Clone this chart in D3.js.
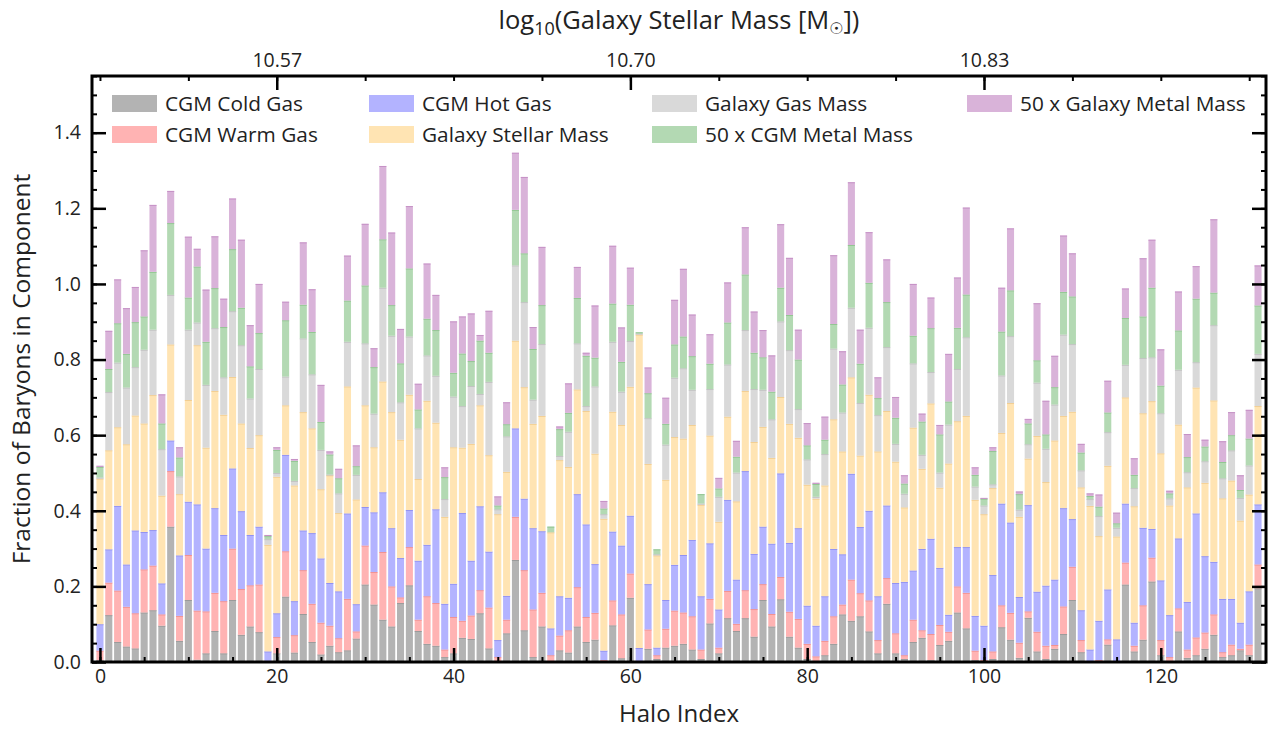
<!DOCTYPE html>
<html><head><meta charset="utf-8">
<script src="https://cdn.jsdelivr.net/npm/d3@7"></script>
<style>
body{margin:0;background:#fff;}
text{font-family:"Open Sans",Lato,sans-serif;fill:#222;}
</style></head>
<body><svg id="c" width="1274" height="731"></svg>
<script>
const haloIndex = d3.range(132);
const cgmCold = [0.005,0.124,0.053,0.041,0.036,0.131,0.137,0.096,0.358,0.056, 0.164,0.006,0.023,0.082,0.023,0.164,0.072,0.094,0.079,0.000, 0.023,0.173,0.025,0.127,0.053,0.020,0.043,0.026,0.031,0.062, 0.205,0.152,0.112,0.094,0.156,0.203,0.082,0.048,0.043,0.013, 0.023,0.064,0.061,0.129,0.036,0.003,0.076,0.270,0.084,0.013, 0.094,0.000,0.031,0.025,0.094,0.053,0.059,0.000,0.097,0.010, 0.170,0.000,0.035,0.008,0.038,0.043,0.048,0.033,0.008,0.102, 0.023,0.116,0.082,0.116,0.067,0.164,0.094,0.166,0.067,0.038, 0.008,0.000,0.018,0.048,0.126,0.109,0.121,0.081,0.023,0.154, 0.023,0.008,0.053,0.064,0.005,0.045,0.056,0.131,0.089,0.005, 0.000,0.008,0.092,0.059,0.011,0.117,0.028,0.008,0.035,0.074, 0.164,0.026,0.000,0.000,0.046,0.000,0.205,0.028,0.059,0.213, 0.018,0.003,0.081,0.011,0.018,0.035,0.072,0.013,0.018,0.031, 0.018,0.195];
const cgmWarm = [0.025,0.086,0.136,0.105,0.093,0.114,0.118,0.030,0.147,0.066, 0.119,0.130,0.111,0.101,0.138,0.136,0.121,0.109,0.126,0.003, 0.043,0.120,0.046,0.116,0.101,0.084,0.053,0.037,0.136,0.019, 0.103,0.086,0.179,0.106,0.015,0.101,0.030,0.126,0.113,0.020, 0.096,0.045,0.062,0.061,0.108,0.010,0.036,0.114,0.159,0.126, 0.089,0.018,0.039,0.059,0.104,0.066,0.071,0.005,0.066,0.116, 0.064,0.003,0.051,0.010,0.050,0.093,0.083,0.088,0.025,0.065, 0.015,0.072,0.019,0.074,0.073,0.042,0.033,0.059,0.066,0.076, 0.040,0.015,0.038,0.073,0.026,0.109,0.061,0.082,0.035,0.068, 0.053,0.010,0.059,0.020,0.069,0.053,0.024,0.069,0.094,0.025, 0.005,0.020,0.058,0.071,0.040,0.017,0.052,0.035,0.010,0.073, 0.088,0.032,0.000,0.005,0.014,0.000,0.058,0.015,0.091,0.063, 0.040,0.010,0.061,0.022,0.047,0.043,0.054,0.013,0.028,0.004, 0.028,0.063];
const cgmHot = [0.070,0.088,0.224,0.112,0.219,0.099,0.094,0.082,0.081,0.160, 0.141,0.281,0.166,0.224,0.175,0.212,0.206,0.133,0.153,0.025, 0.063,0.255,0.090,0.105,0.187,0.170,0.113,0.124,0.226,0.072, 0.102,0.158,0.158,0.154,0.104,0.098,0.156,0.136,0.248,0.121, 0.088,0.285,0.145,0.222,0.148,0.045,0.063,0.234,0.189,0.215, 0.163,0.071,0.104,0.086,0.246,0.245,0.129,0.025,0.182,0.182, 0.153,0.034,0.120,0.020,0.076,0.121,0.152,0.202,0.141,0.147, 0.101,0.241,0.117,0.315,0.146,0.152,0.186,0.274,0.182,0.240, 0.101,0.081,0.118,0.178,0.133,0.280,0.175,0.237,0.116,0.192, 0.133,0.194,0.130,0.215,0.252,0.151,0.045,0.104,0.121,0.092, 0.091,0.202,0.269,0.239,0.121,0.281,0.106,0.159,0.173,0.260, 0.126,0.079,0.033,0.104,0.132,0.060,0.156,0.061,0.205,0.076, 0.158,0.111,0.185,0.126,0.328,0.202,0.139,0.141,0.121,0.069, 0.141,0.159];
const galStellar = [0.385,0.262,0.208,0.318,0.304,0.287,0.357,0.232,0.254,0.162, 0.269,0.421,0.267,0.310,0.318,0.242,0.232,0.230,0.242,0.282, 0.361,0.131,0.306,0.313,0.277,0.183,0.285,0.207,0.336,0.277, 0.269,0.172,0.293,0.307,0.313,0.305,0.216,0.381,0.229,0.230, 0.361,0.173,0.309,0.267,0.255,0.333,0.328,0.232,0.295,0.276, 0.305,0.254,0.360,0.346,0.277,0.300,0.292,0.349,0.317,0.319, 0.341,0.829,0.318,0.244,0.318,0.338,0.308,0.304,0.242,0.285, 0.232,0.220,0.207,0.212,0.296,0.264,0.227,0.202,0.315,0.239, 0.320,0.336,0.293,0.343,0.272,0.255,0.189,0.307,0.383,0.250, 0.321,0.197,0.378,0.212,0.358,0.212,0.400,0.333,0.347,0.307, 0.295,0.230,0.187,0.316,0.212,0.123,0.412,0.274,0.368,0.244, 0.284,0.325,0.380,0.224,0.327,0.272,0.281,0.308,0.303,0.338, 0.336,0.290,0.301,0.303,0.333,0.194,0.427,0.266,0.313,0.270, 0.256,0.260];
const galGas = [0.003,0.154,0.171,0.150,0.128,0.195,0.173,0.123,0.131,0.047, 0.186,0.060,0.166,0.166,0.099,0.174,0.207,0.131,0.175,0.015, 0.010,0.076,0.012,0.195,0.143,0.104,0.002,0.052,0.118,0.065, 0.164,0.089,0.248,0.202,0.099,0.154,0.134,0.120,0.124,0.047, 0.134,0.110,0.153,0.030,0.194,0.013,0.094,0.199,0.225,0.064, 0.190,0.000,0.011,0.093,0.122,0.013,0.178,0.012,0.185,0.088, 0.121,0.003,0.121,0.003,0.093,0.157,0.186,0.093,0.003,0.123, 0.066,0.138,0.076,0.161,0.140,0.098,0.102,0.200,0.195,0.076, 0.067,0.005,0.083,0.187,0.103,0.184,0.139,0.177,0.096,0.169, 0.047,0.036,0.170,0.037,0.083,0.040,0.103,0.138,0.208,0.035, 0.023,0.010,0.152,0.177,0.019,0.038,0.141,0.088,0.095,0.215, 0.179,0.045,0.018,0.053,0.089,0.023,0.086,0.048,0.146,0.116, 0.106,0.019,0.145,0.040,0.067,0.057,0.199,0.053,0.080,0.060, 0.077,0.138];
const cgmMetal50 = [0.028,0.061,0.104,0.089,0.119,0.088,0.153,0.068,0.190,0.050, 0.085,0.148,0.114,0.106,0.133,0.164,0.099,0.085,0.095,0.008, 0.061,0.149,0.053,0.089,0.112,0.074,0.053,0.040,0.109,0.023, 0.153,0.123,0.128,0.081,0.103,0.180,0.050,0.097,0.121,0.058, 0.063,0.139,0.066,0.141,0.077,0.010,0.032,0.147,0.129,0.134, 0.103,0.015,0.071,0.050,0.120,0.133,0.076,0.015,0.101,0.079, 0.096,0.003,0.066,0.013,0.055,0.088,0.084,0.089,0.025,0.067, 0.022,0.111,0.042,0.147,0.096,0.086,0.073,0.089,0.093,0.131, 0.037,0.034,0.038,0.065,0.074,0.166,0.104,0.119,0.045,0.119, 0.069,0.027,0.073,0.088,0.116,0.101,0.061,0.109,0.113,0.031, 0.018,0.088,0.116,0.121,0.041,0.055,0.059,0.038,0.046,0.113, 0.126,0.047,0.008,0.025,0.052,0.012,0.124,0.035,0.110,0.184, 0.073,0.013,0.104,0.040,0.168,0.039,0.086,0.043,0.040,0.021, 0.071,0.128];
const galMetal50 = [0.003,0.101,0.116,0.121,0.093,0.175,0.177,0.077,0.085,0.027, 0.161,0.047,0.138,0.137,0.075,0.134,0.180,0.109,0.130,0.003, 0.007,0.049,0.005,0.165,0.113,0.098,0.008,0.025,0.119,0.055, 0.163,0.050,0.194,0.192,0.091,0.165,0.068,0.146,0.093,0.026, 0.136,0.098,0.126,0.015,0.111,0.024,0.058,0.151,0.202,0.058, 0.154,0.000,0.007,0.078,0.082,0.008,0.138,0.020,0.153,0.091, 0.098,0.000,0.068,0.000,0.069,0.118,0.179,0.110,0.000,0.078, 0.028,0.106,0.042,0.125,0.109,0.072,0.096,0.168,0.151,0.079, 0.059,0.003,0.061,0.182,0.088,0.166,0.090,0.134,0.055,0.113, 0.055,0.022,0.137,0.021,0.081,0.025,0.126,0.133,0.230,0.020, 0.002,0.010,0.116,0.164,0.007,0.012,0.151,0.089,0.083,0.149, 0.114,0.023,0.007,0.032,0.084,0.028,0.078,0.044,0.154,0.127, 0.096,0.007,0.103,0.061,0.086,0.018,0.194,0.055,0.061,0.039, 0.076,0.106];

const seriesNames = ["CGM Cold Gas","CGM Warm Gas","CGM Hot Gas","Galaxy Stellar Mass","Galaxy Gas Mass","50 x CGM Metal Mass","50 x Galaxy Metal Mass"];
const seriesValues = [cgmCold, cgmWarm, cgmHot, galStellar, galGas, cgmMetal50, galMetal50];
const seriesColors = ["#b3b3b3","#ffb3b3","#b3b3ff","#ffe4b3","#d9d9d9","#b3d9b3","#d9b3d9"];
const seriesEdges  = ["#959595","#f08a8a","#8a8af0","#f0c98a","#bdbdbd","#8ac28a","#c28ac2"];
const bottomTicks = [0,20,40,60,80,100,120];
const topTickIdx = [20,60,100];
const topTickLabels = ["10.57","10.70","10.83"];
const yTicks = [0,0.2,0.4,0.6,0.8,1.0,1.2,1.4];

const svg = d3.select("#c");
const L=92, R=1266, T=76, B=662;
const x = d3.scaleLinear().domain([-0.9,131.9]).range([L,R]);
const y = d3.scaleLinear().domain([0,1.55]).range([B,T]);
const bw = 0.8*(x(1)-x(0));
const FONT = "'Open Sans', Lato, sans-serif";

const table = haloIndex.map(i => { const o={i}; seriesNames.forEach((n,k)=>o[n]=seriesValues[k][i]); return o; });
const stacked = d3.stack().keys(seriesNames)(table);

const g = svg.append("g");
stacked.forEach((layer,k)=>{
  const lg = g.append("g");
  lg.selectAll("rect").data(layer).join("rect")
    .attr("x", d=>x(d.data.i)-bw/2).attr("width", bw)
    .attr("y", d=>y(d[1])).attr("height", d=>Math.max(0,y(d[0])-y(d[1])))
    .attr("fill", seriesColors[k]);
  lg.selectAll("line").data(layer.filter(d=>d[1]-d[0]>0.002)).join("line")
    .attr("x1", d=>x(d.data.i)-bw/2).attr("x2", d=>x(d.data.i)+bw/2)
    .attr("y1", d=>y(d[1])+0.5).attr("y2", d=>y(d[1])+0.5)
    .attr("stroke", seriesEdges[k]).attr("stroke-width",1).attr("opacity",0.8);
});

function styleAxis(sel, w){ sel.select(".domain").remove(); sel.selectAll(".tick line").attr("stroke","#000").attr("stroke-width",w); sel.selectAll("text").attr("font-size",19.5).attr("fill","#222").style("font-family",FONT); }

// bottom
svg.append("g").attr("transform",`translate(0,${B})`)
  .call(d3.axisBottom(x).tickValues(d3.range(0,132,5)).tickSize(-5).tickFormat(""))
  .call(s=>styleAxis(s,2));
svg.append("g").attr("transform",`translate(0,${B})`)
  .call(d3.axisBottom(x).tickValues(bottomTicks).tickSize(-14).tickPadding(7).tickFormat(d3.format("d")))
  .call(s=>styleAxis(s,2.5));
// top
svg.append("g").attr("transform",`translate(0,${T})`)
  .call(d3.axisTop(x).tickValues(d3.range(0,132,10)).tickSize(-5).tickFormat(""))
  .call(s=>styleAxis(s,2));
svg.append("g").attr("transform",`translate(0,${T})`)
  .call(d3.axisTop(x).tickValues(topTickIdx).tickSize(-14).tickPadding(9).tickFormat((d,i)=>topTickLabels[i]))
  .call(s=>styleAxis(s,2.5));
// left / right
const minorY = d3.range(0,1.5501,0.05);
svg.append("g").attr("transform",`translate(${L},0)`)
  .call(d3.axisLeft(y).tickValues(minorY).tickSize(-5).tickFormat(""))
  .call(s=>styleAxis(s,2));
svg.append("g").attr("transform",`translate(${L},0)`)
  .call(d3.axisLeft(y).tickValues(yTicks).tickSize(-14).tickPadding(11).tickFormat(d3.format(".1f")))
  .call(s=>styleAxis(s,2.5));
svg.append("g").attr("transform",`translate(${R},0)`)
  .call(d3.axisRight(y).tickValues(minorY).tickSize(-5).tickFormat(""))
  .call(s=>styleAxis(s,2));
svg.append("g").attr("transform",`translate(${R},0)`)
  .call(d3.axisRight(y).tickValues(yTicks).tickSize(-14).tickFormat(""))
  .call(s=>styleAxis(s,2.5));

svg.append("rect").attr("x",L).attr("y",T).attr("width",R-L).attr("height",B-T)
  .attr("fill","none").attr("stroke","#000").attr("stroke-width",3);

// legend (column-first, 4 columns x 2 rows)
const colX = [112,369,652,967], rowY = [103.5,134.5];
seriesNames.forEach((n,k)=>{
  const col = Math.floor(k/2), row = k%2;
  const lx = colX[col], ly = rowY[row];
  svg.append("rect").attr("x",lx).attr("y",ly-8.5).attr("width",45).attr("height",17).attr("fill",seriesColors[k]);
  svg.append("text").attr("x",lx+53).attr("y",ly).attr("dy","0.36em").attr("font-size",20.8).text(n);
});

// titles
const cx = (L+R)/2;
const tt = svg.append("text").attr("x",cx).attr("y",29).attr("text-anchor","middle").attr("font-size",25.5);
tt.append("tspan").text("log");
tt.append("tspan").attr("dy",6).attr("font-size",18).text("10");
tt.append("tspan").attr("dy",-6).text("(Galaxy Stellar Mass [M");
tt.append("tspan").attr("dy",5).attr("font-size",16).style("font-family","'DejaVu Sans'").text("\u2609");
tt.append("tspan").attr("dy",-5).text("])");

svg.append("text").attr("x",cx).attr("y",722).attr("text-anchor","middle").attr("font-size",24).text("Halo Index");
svg.append("text").attr("transform",`translate(30,${(T+B)/2}) rotate(-90)`).attr("text-anchor","middle").attr("font-size",24.5).text("Fraction of Baryons in Component");
</script></body></html>
